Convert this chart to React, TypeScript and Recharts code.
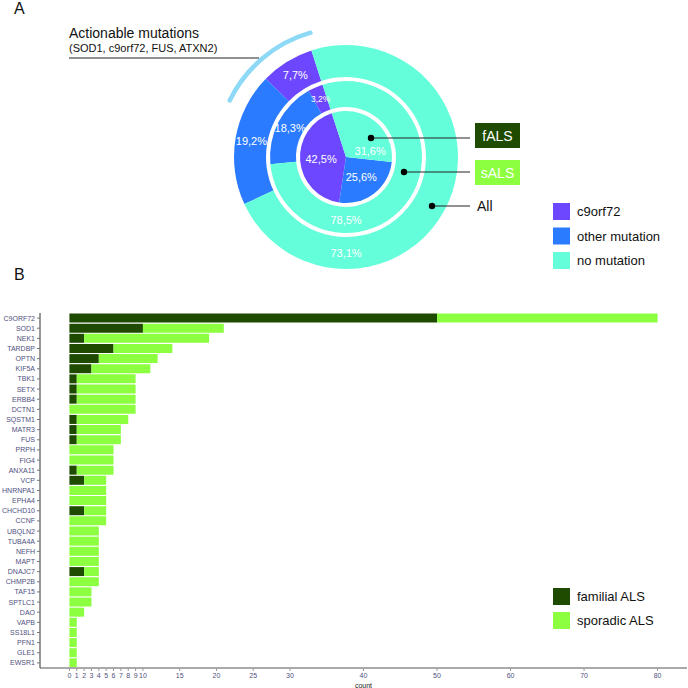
import React from 'react';
import { PieChart, Pie, Cell, BarChart, Bar, XAxis, YAxis } from 'recharts';

// panel A: mutation share per cohort (%)
const MUTATION_TYPES = ['c9orf72', 'other mutation', 'no mutation'];
const FALS_PCT = [42.5, 25.6, 31.6];
const SALS_PCT = [3.2, 18.3, 78.5];
const ALL_PCT = [7.7, 19.2, 73.1];

// panel B: carriers per gene
const GENES = [
  'C9ORF72', 'SOD1', 'NEK1', 'TARDBP', 'OPTN', 'KIF5A', 'TBK1', 'SETX', 'ERBB4', 'DCTN1',
  'SQSTM1', 'MATR3', 'FUS', 'PRPH', 'FIG4', 'ANXA11', 'VCP', 'HNRNPA1', 'EPHA4', 'CHCHD10',
  'CCNF', 'UBQLN2', 'TUBA4A', 'NEFH', 'MAPT', 'DNAJC7', 'CHMP2B', 'TAF15', 'SPTLC1', 'DAO',
  'VAPB', 'SS18L1', 'PFN1', 'GLE1', 'EWSR1'
];
const FAMILIAL = [50, 10, 2, 6, 4, 3, 1, 1, 1, 0, 1, 1, 1, 0, 0, 1, 2, 0, 0, 2, 0, 0, 0, 0, 0, 2, 0, 0, 0, 0, 0, 0, 0, 0, 0];
const SPORADIC = [30, 11, 17, 8, 8, 8, 8, 8, 8, 9, 7, 6, 6, 6, 6, 5, 3, 5, 5, 3, 5, 4, 4, 4, 4, 2, 4, 3, 3, 2, 1, 1, 1, 1, 1];
const COUNT_TICKS = [0, 1, 2, 3, 4, 5, 6, 7, 8, 9, 10, 15, 20, 25, 30, 40, 50, 60, 70, 80];

const MUTATION_COLORS = ['#6C47FF', '#2A7BFF', '#64FFDA'];
const FAMILIAL_COLOR = '#1E4B00';
const SPORADIC_COLOR = '#8CFF40';
const FONT = '"Liberation Sans", Arial, sans-serif';
const NARROW = '"Liberation Sans Narrow", "Arial Narrow", "Liberation Sans", sans-serif';
const TICK_COLOR = '#505080';

const toSlices = (pct: number[]) => MUTATION_TYPES.map((name, i) => ({ name, value: pct[i] }));
const fallsData = toSlices(FALS_PCT);
const salsData = toSlices(SALS_PCT);
const allData = toSlices(ALL_PCT);
const actionableArc = [{ name: 'actionable', value: 1 }];

const barData = GENES.map((gene, i) => ({ gene, familial: FAMILIAL[i], sporadic: SPORADIC[i] }));

const RAD = Math.PI / 180;
const fmtPct = (v: number) => v.toFixed(1).replace('.', ',') + '%';

// label at a fixed radius; some labels moved like in the original figure
const ringLabel = (r: number, angleFix: Record<number, number>) => (props: any) => {
  const { cx, cy, midAngle, index } = props;
  const value = props.value ?? props.payload?.value;
  const angle = angleFix[index] ?? midAngle;
  const x = cx + r * Math.cos(-angle * RAD);
  const y = cy + r * Math.sin(-angle * RAD);
  return (
    <text x={x} y={y} fill="#fff" fontSize={value < 5 ? 8.5 : 11} fontFamily={NARROW}
      textAnchor="middle" dominantBaseline="central">
      {fmtPct(value)}
    </text>
  );
};

const CX = 346;
const CY = 157;

const Annotations = () => (
  <svg width={688} height={688} style={{ position: 'absolute', left: 0, top: 0, pointerEvents: 'none' }}
    fontFamily={FONT}>
    <text x={14} y={14} fontSize={16} fill="#111">A</text>
    <text x={14} y={280} fontSize={16} fill="#111">B</text>

    <text x={69} y={38} fontSize={14} fill="#111">Actionable mutations</text>
    <text x={69} y={52} fontSize={11} fill="#111">(SOD1, c9orf72, FUS, ATXN2)</text>
    <line x1={69} y1={58} x2={259} y2={58} stroke="#222" strokeWidth={1} />

    <line x1={371} y1={138} x2={470} y2={138} stroke="#222" strokeWidth={1} />
    <circle cx={371} cy={138} r={3.2} fill="#000" />
    <rect x={475} y={123} width={45} height={25} fill={FAMILIAL_COLOR} />
    <text x={497.5} y={141} fontSize={14} fill="#fff" textAnchor="middle">fALS</text>

    <line x1={404} y1={172} x2={470} y2={172} stroke="#222" strokeWidth={1} />
    <circle cx={404} cy={172} r={3.2} fill="#000" />
    <rect x={475} y={160} width={45} height={25} fill={SPORADIC_COLOR} />
    <text x={497.5} y={178} fontSize={14} fill="#fff" textAnchor="middle">sALS</text>

    <line x1={432} y1={206} x2={470} y2={206} stroke="#222" strokeWidth={1} />
    <circle cx={432} cy={206} r={3.2} fill="#000" />
    <text x={477} y={211} fontSize={14} fill="#111">All</text>

    {MUTATION_TYPES.map((name, i) => (
      <g key={name}>
        <rect x={553} y={203 + i * 24.5} width={17} height={17} fill={MUTATION_COLORS[i]} />
        <text x={577} y={216 + i * 24.5} fontSize={13} fill="#111">{name}</text>
      </g>
    ))}

    {[['familial ALS', FAMILIAL_COLOR], ['sporadic ALS', SPORADIC_COLOR]].map(([name, color], i) => (
      <g key={name}>
        <rect x={553} y={588 + i * 24} width={17} height={17} fill={color} />
        <text x={577} y={601 + i * 24} fontSize={13} fill="#111">{name}</text>
      </g>
    ))}
  </svg>
);

export default function App() {
  return (
    <div style={{ position: 'absolute', left: 0, top: 0, width: 688, height: 688, background: '#fff', fontFamily: FONT }}>
      <div style={{ position: 'absolute', left: 0, top: 0 }}>
        <PieChart width={688} height={290} margin={{ top: 0, right: 0, bottom: 0, left: 0 }}>
          <Pie data={actionableArc} dataKey="value" cx={CX} cy={CY} innerRadius={127} outerRadius={131.5}
            startAngle={105} endAngle={155} cornerRadius={2} stroke="none" fill="#8ED9F6"
            isAnimationActive={false} />
          <Pie data={allData} dataKey="value" cx={CX} cy={CY} innerRadius={80} outerRadius={112}
            startAngle={108} endAngle={468} stroke="none" isAnimationActive={false}
            labelLine={false} label={ringLabel(96, { 2: 270 })}>
            {allData.map((d, i) => <Cell key={d.name} fill={MUTATION_COLORS[i]} />)}
          </Pie>
          <Pie data={salsData} dataKey="value" cx={CX} cy={CY} innerRadius={50} outerRadius={76}
            startAngle={108} endAngle={468} stroke="none" isAnimationActive={false}
            labelLine={false} label={ringLabel(63, { 2: 270 })}>
            {salsData.map((d, i) => <Cell key={d.name} fill={MUTATION_COLORS[i]} />)}
          </Pie>
          <Pie data={fallsData} dataKey="value" cx={CX} cy={CY} innerRadius={0} outerRadius={46}
            startAngle={108} endAngle={468} stroke="none" isAnimationActive={false}
            labelLine={false} label={ringLabel(25, { 2: 15 })}>
            {fallsData.map((d, i) => <Cell key={d.name} fill={MUTATION_COLORS[i]} />)}
          </Pie>
        </PieChart>
      </div>

      <div style={{ position: 'absolute', left: 0, top: 290 }}>
        <BarChart width={688} height={398} data={barData} layout="vertical"
          margin={{ top: 23, right: 1, bottom: 0, left: 0 }} barCategoryGap="5%">
          <XAxis type="number" domain={[-4, 84]} ticks={COUNT_TICKS} interval={0} allowDataOverflow
            height={20} tickSize={3} tickLine={{ stroke: '#999' }}
            axisLine={{ stroke: '#aaa', strokeWidth: 2 }}
            tick={{ fontSize: 7, fill: TICK_COLOR, fontFamily: FONT }}
            label={{ value: 'count', position: 'insideBottom', offset: 0, fontSize: 7, fill: '#222', fontFamily: FONT }} />
          <YAxis type="category" dataKey="gene" width={40} interval={0} tickSize={3}
            tickLine={{ stroke: '#777' }} axisLine={{ stroke: '#333' }}
            tick={{ fontSize: 7, fill: TICK_COLOR, fontFamily: FONT }} />
          <Bar dataKey="familial" stackId="a" fill={FAMILIAL_COLOR} isAnimationActive={false} />
          <Bar dataKey="sporadic" stackId="a" fill={SPORADIC_COLOR} isAnimationActive={false} />
        </BarChart>
      </div>

      <Annotations />
    </div>
  );
}
